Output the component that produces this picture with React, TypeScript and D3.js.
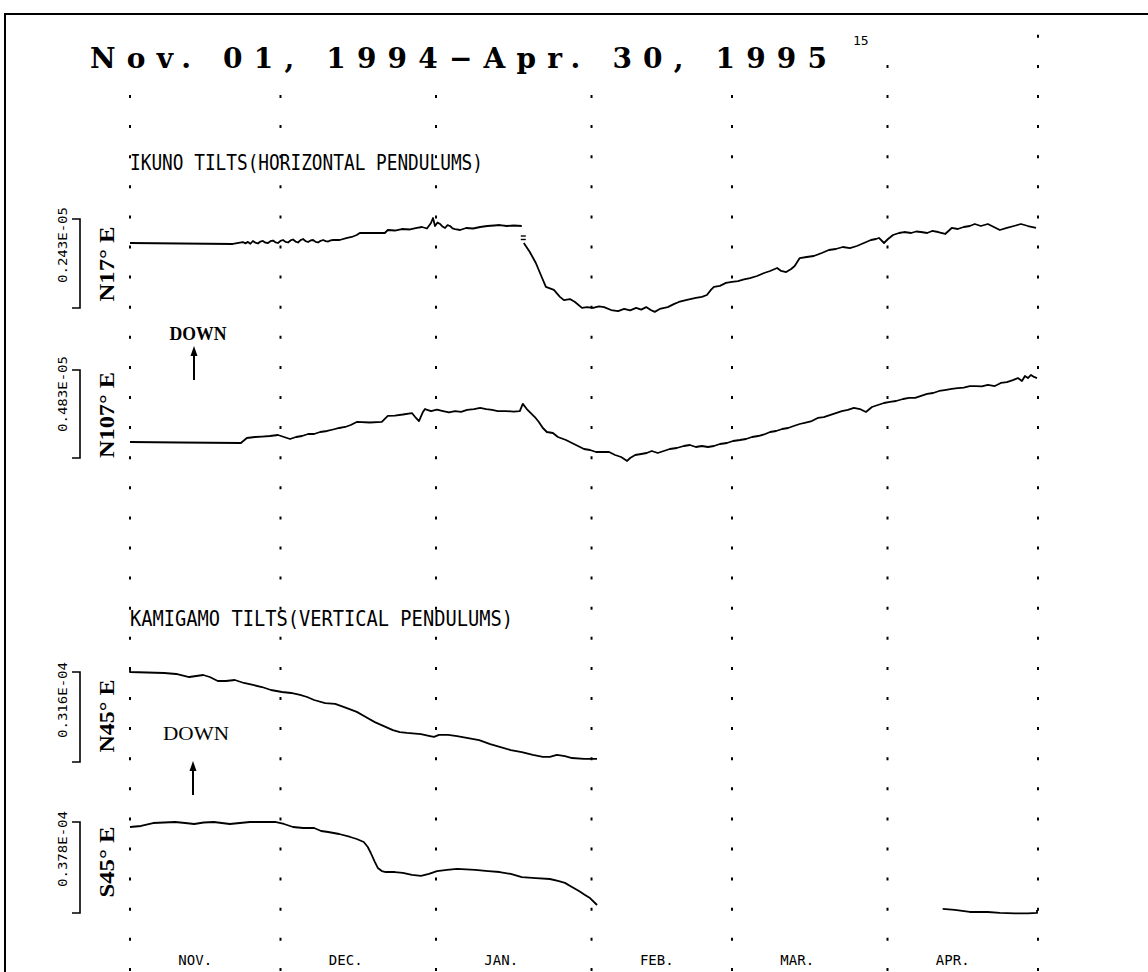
import React from 'react';
import * as d3 from 'd3';

const W = 1148;
const H = 972;

// month boundaries and labels of the time axis
const monthStarts = ['1994-11-01', '1994-12-01', '1995-01-01', '1995-02-01', '1995-03-01', '1995-04-01', '1995-05-01'];
const monthLabels = ['NOV.', 'DEC.', 'JAN.', 'FEB.', 'MAR.', 'APR.'];

// [day since Nov 1 1994, tilt]  IKUNO traces in 1e-7 rad, KAMIGAMO traces in 1e-6 rad
const ikunoN17a: [number, number][] = [
  [0, 0], [20.5, -0.27], [22.5, 0.27], [23, -0.1], [23.5, 0.3], [24, -0.2], [24.5, 0.55], [25, 0.1], [25.5, -0.14], [26, 0.4],
  [26.5, 0.55], [27, 0.1], [27.5, 0], [28, 0.5], [28.5, 0.68], [29, 0.2], [29.5, 0], [30, 0.6], [30.5, 0.82], [31, 0.3],
  [31.5, 0.14], [32, 0.7], [32.5, 0.96], [33, 0.4], [33.5, 0.14], [34, 0.8], [34.5, 1.09], [35, 0.5], [35.5, 0.27], [36, 0.7],
  [36.5, 0.82], [37, 0.3], [37.5, 0.14], [38, 0.6], [38.5, 0.82], [39, 0.5], [39.5, 0.41], [40, 0.7], [40.5, 0.82], [41.8, 0.82],
  [43.3, 1.37], [44.2, 1.64], [45.2, 2.18], [45.8, 2.73], [50.8, 2.73], [51.4, 3.55], [52.8, 3.41], [54.2, 3.82],
  [55.8, 3.69], [57.2, 4.1], [58.2, 4.37], [59.2, 3.96], [60, 5.46], [60.4, 6.83], [60.8, 4.64], [61.3, 5.6],
  [61.8, 5.19], [62.3, 4.5], [62.8, 4.1], [63.3, 4.9], [63.8, 4.64], [64.3, 4.0], [64.8, 3.82], [65.8, 3.55],
  [67, 4.1], [68.4, 3.96], [69.8, 4.37], [71.2, 4.64], [72.6, 4.78], [73.7, 4.91], [75.1, 4.64], [76.5, 4.78], [78.1, 4.64],
];
const ikunoN17b: [number, number][] = [
  [78.5, 0], [79.7, -2.46], [80.9, -5.46], [81.9, -8.74], [82.9, -12.0], [84.5, -12.8], [85.7, -14.7], [86.5, -15.6],
  [87.7, -15.3], [88.7, -16.1], [90.1, -17.7], [91.1, -17.5], [92.3, -17.7], [93.5, -17.3], [94.5, -17.5], [95.9, -18.3],
  [97.3, -18.6], [98.5, -18.0], [99.7, -18.4], [100.9, -17.7], [101.9, -18.2], [102.9, -17.5], [103.8, -18.3], [104.6, -18.8],
  [105.6, -18.0], [107.2, -17.5], [108.4, -16.7], [109.4, -16.1], [110.8, -15.6], [112.8, -15.0], [114, -14.7], [115, -14.2],
  [115.8, -12.8], [116.4, -12.0], [117.6, -11.7], [118.8, -10.9], [120, -10.6], [121.2, -10.4], [122.4, -9.96], [123.6, -9.56],
  [125, -9.01], [126.4, -8.19], [127.6, -7.64], [129, -6.83], [129.8, -7.64], [130.8, -7.92], [131.8, -7.1], [132.5, -6.28],
  [133.5, -4.1], [134.9, -3.82], [136.3, -3.55], [137.9, -2.73], [139.3, -1.91], [140.7, -1.64], [142.1, -1.09], [143.5, -1.37],
  [144.9, -0.82], [146.3, 0], [147.7, 0.82], [148.7, 1.09], [149.3, 1.37], [150.3, 0], [151.1, 1.09], [152.1, 2.18],
  [153.3, 2.73], [154.3, 3.0], [155.7, 2.73], [156.7, 3.14], [157.7, 3.0], [158.9, 2.73], [159.9, 3.28], [161.1, 3.0],
  [162.5, 2.46], [163.8, 4.1], [165, 3.82], [166.2, 4.37], [167.4, 4.64], [168.4, 5.19], [169.6, 4.64], [171, 5.19],
  [172.2, 4.37], [173.4, 3.55], [174.8, 4.1], [176.2, 4.64], [177.6, 5.19], [179, 4.64], [180.6, 4.1],
];
const ikunoN107: [number, number][] = [
  [0, 0], [10, -0.27], [22.1, -0.55], [23.3, 2.2], [24.9, 2.75], [26.3, 3.0], [27.9, 3.29], [29.5, 3.84],
  [30.7, 2.75], [31.9, 1.65], [33.1, 2.75], [34.3, 3.29], [35.5, 4.39], [36.7, 4.39], [37.9, 5.49], [39.3, 6.04],
  [40.5, 6.86], [41.7, 7.69], [42.9, 8.24], [44, 9.33], [45.2, 11.0], [47.8, 10.7], [50.2, 11.0], [51.4, 14.3],
  [52.8, 14.5], [54.4, 15.1], [56.2, 15.9], [57, 13.2], [57.6, 11.5], [58.4, 16.5], [58.8, 18.1], [60, 17.0],
  [61.2, 17.8], [62.4, 17.0], [63.6, 16.2], [64.8, 17.0], [66, 16.5], [67.2, 17.6], [68.6, 18.1], [69.8, 18.7],
  [71, 18.1], [72.2, 17.6], [73.3, 17.0], [74.9, 17.0], [76.5, 16.7], [77.7, 17.0], [78.3, 20.9], [79.1, 18.1],
  [79.9, 15.9], [80.7, 13.7], [81.5, 11.0], [82.3, 7.69], [83.1, 5.49], [84.3, 4.94], [85.3, 2.75], [86.9, 1.1],
  [88.1, -0.55], [89.3, -2.2], [90.5, -3.84], [91.7, -4.39], [92.9, -5.49], [94.3, -5.49], [95.5, -5.49], [96.7, -7.14],
  [97.9, -8.24], [99.1, -10.4], [99.7, -8.78], [100.7, -7.14], [101.9, -6.59], [103, -6.04], [104, -4.94], [105.2, -6.04],
  [106.4, -4.94], [107.6, -3.84], [109, -3.29], [110.4, -2.2], [111.6, -1.65], [112.8, -2.75], [114, -2.2], [115.2, -2.75],
  [116.4, -2.2], [117.6, -1.1], [119, -0.55], [120.2, 0.55], [121.6, 1.1], [122.8, 1.65], [124, 2.75], [125.2, 3.29],
  [126.4, 4.12], [127.6, 5.49], [128.8, 6.04], [130, 7.14], [131.2, 7.69], [132.3, 8.78], [133.5, 9.88], [134.7, 10.7],
  [135.9, 11.5], [137.1, 13.2], [138.3, 13.7], [139.5, 14.8], [140.7, 15.9], [141.9, 17.0], [143.1, 17.6], [144.3, 18.7],
  [145.5, 18.1], [146.7, 16.5], [147.9, 19.2], [149.1, 20.3], [150.3, 21.4], [151.5, 22.0], [152.7, 22.5], [154.1, 23.6],
  [155.3, 24.2], [156.5, 24.2], [157.7, 25.3], [158.9, 26.4], [160.1, 26.9], [161.3, 28.0], [162.4, 28.5], [163.8, 29.1],
  [165, 29.6], [166.2, 29.9], [167.4, 30.7], [168.6, 30.7], [169.8, 30.5], [171, 31.3], [172.4, 30.7], [173.6, 32.4],
  [174.8, 32.9], [176, 34.0], [177, 35.1], [177.8, 33.5], [178.4, 36.2], [179, 35.1], [179.6, 36.8], [180.2, 35.7],
  [180.8, 35.1],
];
const kamiN45: [number, number][] = [
  [0, 0.7], [0, 0], [6.8, -0.35], [9.2, -0.7], [11.8, -1.76], [14.6, -1.05], [15.9, -1.76], [17.5, -3.16],
  [19.1, -3.16], [20.9, -2.81], [22.7, -3.86], [24.5, -4.56], [26.3, -5.27], [28.1, -6.32], [30.3, -7.02], [32.1, -7.37],
  [33.9, -8.07], [35.3, -8.78], [36.7, -9.83], [38.9, -10.9], [40.9, -11.2], [43.1, -12.6], [45.2, -14.0], [47, -15.8],
  [48.8, -17.6], [50.6, -19.0], [52.4, -20.4], [53.8, -21.1], [55.2, -21.4], [58, -21.8], [59.8, -22.5], [60.6, -22.8],
  [61.6, -22.1], [63.4, -22.1], [65.2, -22.5], [67.4, -23.2], [69.6, -23.9], [71.8, -25.3], [73.7, -26.3], [75.9, -27.4],
  [78.1, -28.1], [80.3, -29.1], [82.3, -29.8], [83.7, -29.8], [85.1, -29.1], [86.7, -29.5], [88.1, -30.2], [90.5, -30.5],
  [93.1, -30.5],
];
const kamiS45a: [number, number][] = [
  [0, 0], [2.2, 0.42], [4.6, 1.66], [6.8, 1.87], [9, 2.08], [11, 1.66], [12.8, 1.25], [14.7, 1.87],
  [16.7, 2.08], [18.3, 1.66], [19.9, 1.25], [21.9, 1.66], [23.9, 2.08], [26.3, 2.08], [28.9, 2.08], [30.7, 1.25],
  [32.5, 0], [34.5, -0.42], [36.7, -0.42], [38.1, -1.66], [39.5, -2.08], [41.7, -2.91], [43.9, -4.15], [45.2, -4.98],
  [46.6, -6.23], [47.4, -8.3], [48, -10.8], [48.8, -14.5], [49.4, -17.0], [50.2, -18.3], [51, -18.7], [52.8, -18.7],
  [54.4, -19.1], [56.2, -19.9], [58, -20.3], [59.6, -19.5], [61.2, -18.3], [63.2, -17.8], [65.2, -17.4], [67, -17.6],
  [68.8, -17.8], [71.4, -18.3], [73.7, -18.7], [75.9, -19.5], [78.1, -20.8], [80.9, -21.2], [83.7, -21.6], [85.3, -22.4],
  [86.7, -23.2], [88.1, -24.9], [89.5, -26.6], [90.7, -28.2], [91.7, -29.5], [93.1, -32.4],
];
const kamiS45b: [number, number][] = [
  [162, -34.0], [164.4, -34.4], [167.4, -35.3], [171, -35.3], [173.4, -35.7], [176.4, -35.9], [179, -35.9], [180.8, -35.7], [180.8, -34.5],
];

const traces = [
  { name: 'N17° E', bar: '0.243E-05', barValue: 24.3, segments: [ikunoN17a, ikunoN17b], y0: 243, barPx: 89, barTop: 219, barLabelY: 245, nameY: 264, nameLen: 75 },
  { name: 'N107° E', bar: '0.483E-05', barValue: 48.3, segments: [ikunoN107], y0: 442, barPx: 88, barTop: 370, barLabelY: 394, nameY: 415, nameLen: 86 },
  { name: 'N45° E', bar: '0.316E-04', barValue: 31.6, segments: [kamiN45], y0: 672, barPx: 90, barTop: 672, barLabelY: 700, nameY: 716, nameLen: 73 },
  { name: 'S45° E', bar: '0.378E-04', barValue: 37.8, segments: [kamiS45a, kamiS45b], y0: 827, barPx: 91, barTop: 822, barLabelY: 849, nameY: 862, nameLen: 71 },
];

const start = Date.UTC(1994, 10, 1);
const toDate = (d: number) => new Date(start + d * 864e5);

export default function App() {
  const x = d3.scaleUtc()
    .domain([new Date(monthStarts[0]), new Date(monthStarts[6])])
    .range([130, 1038]);

  const plotter = '"DejaVu Sans Mono", monospace';
  const serif = '"Liberation Serif", "Times New Roman", serif';

  // dotted month lines: first dash row and period
  const dotPeriod = 30.1;
  const dotFirst = 96.5;

  return (
    <svg width={W} height={H} style={{ position: 'absolute', left: 0, top: 0, background: '#fff' }}>
      <rect x={5} y={14} width={W + 20} height={H + 20} fill="none" stroke="#000" strokeWidth={2} />

      {/* title */}
      <text x={90} y={68} fontFamily='"DejaVu Serif", serif' fontWeight={700} fontSize={28} textLength={737} lengthAdjust="spacing">
        Nov. 01, 1994−Apr. 30, 1995
      </text>
      <text x={853} y={45} fontFamily={plotter} fontSize={13}>15</text>

      {/* month grid */}
      {monthStarts.map((m, i) => {
        const xx = x(new Date(m));
        const first = dotFirst - (i === 5 ? 1 : i === 6 ? 2 : 0) * dotPeriod;
        return (
          <line key={m} x1={xx} x2={xx} y1={first - 1.5} y2={H} stroke="#000" strokeWidth={2}
            strokeDasharray={`3 ${dotPeriod - 3}`} />
        );
      })}
      {monthLabels.map((lab, i) => (
        <text key={lab} x={x(d3.utcDay.offset(new Date(monthStarts[i]), 13))} y={965} textAnchor="middle"
          fontFamily={plotter} fontSize={14}>{lab}</text>
      ))}

      {/* headings */}
      <text x={130} y={170} fontFamily={plotter} fontSize={21} textLength={353} lengthAdjust="spacingAndGlyphs">
        IKUNO TILTS(HORIZONTAL PENDULUMS)
      </text>
      <text x={130} y={626} fontFamily={plotter} fontSize={21} textLength={383} lengthAdjust="spacingAndGlyphs">
        KAMIGAMO TILTS(VERTICAL PENDULUMS)
      </text>

      {/* traces */}
      {traces.map(t => {
        const y = d3.scaleLinear().domain([0, t.barValue]).range([t.y0, t.y0 - t.barPx]);
        const line = d3.line<[number, number]>().x(d => x(toDate(d[0]))).y(d => y(d[1]));
        return (
          <g key={t.name}>
            <path d={`M72,${t.barTop}H80V${t.barTop + t.barPx}H72`} fill="none" stroke="#000" strokeWidth={1.6} />
            <text transform={`translate(62,${t.barLabelY}) rotate(-90)`} textAnchor="middle" dominantBaseline="central"
              fontFamily={plotter} fontSize={13} textLength={76} lengthAdjust="spacingAndGlyphs">{t.bar}</text>
            <text transform={`translate(106,${t.nameY}) rotate(-90)`} textAnchor="middle" dominantBaseline="central"
              fontFamily={serif} fontWeight={700} fontSize={22} textLength={t.nameLen} lengthAdjust="spacingAndGlyphs">{t.name}</text>
            {t.segments.map((s, k) => (
              <path key={k} d={line(s) ?? ''} fill="none" stroke="#000" strokeWidth={1.8} strokeLinejoin="round" />
            ))}
          </g>
        );
      })}

      {/* break marker on N17E */}
      {(() => {
        const bx = x(toDate(ikunoN17b[0][0]));
        return (
          <g stroke="#000" strokeWidth={1.4}>
            <line x1={bx - 3} x2={bx + 2} y1={236} y2={236} />
            <line x1={bx - 3} x2={bx + 2} y1={239.5} y2={239.5} />
          </g>
        );
      })()}

      {/* DOWN arrows */}
      <text x={198} y={340} textAnchor="middle" fontFamily={serif} fontWeight={700} fontSize={18} textLength={57} lengthAdjust="spacingAndGlyphs">DOWN</text>
      <path d="M194,380V352" stroke="#000" strokeWidth={2} />
      <path d="M190.5,356L194,346L197.5,356Z" fill="#000" />
      <text x={196} y={740} textAnchor="middle" fontFamily={serif} fontSize={19} textLength={66} lengthAdjust="spacingAndGlyphs">DOWN</text>
      <path d="M193,795V766" stroke="#000" strokeWidth={2} />
      <path d="M189.5,771L193,761L196.5,771Z" fill="#000" />
    </svg>
  );
}
